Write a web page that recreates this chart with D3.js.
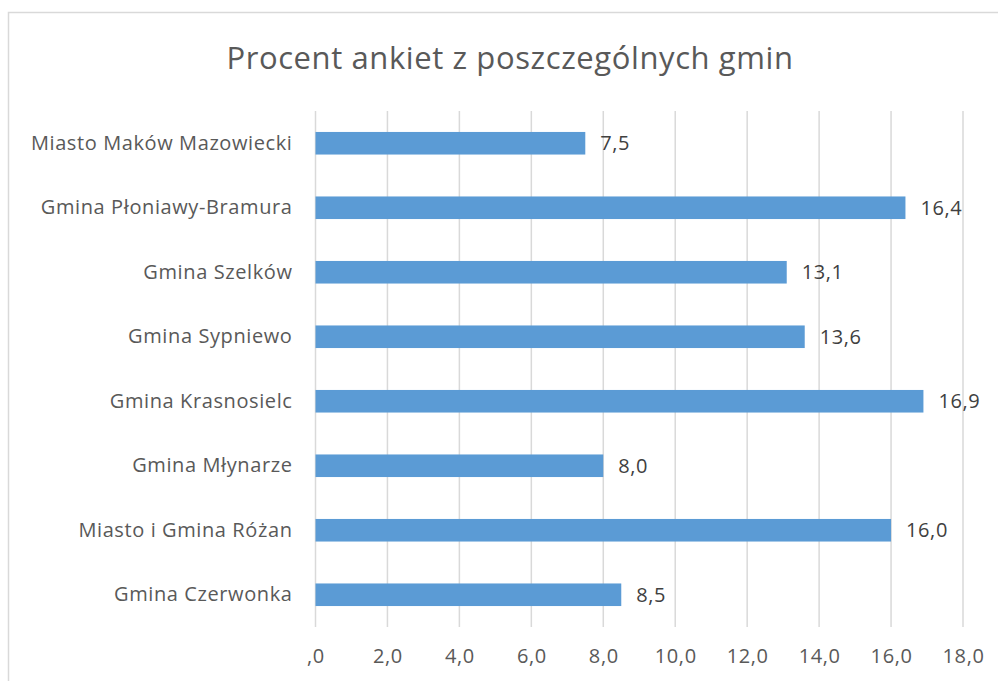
<!DOCTYPE html>
<html>
<head>
<meta charset="utf-8">
<script src="https://cdn.jsdelivr.net/npm/d3@7"></script>
<style>
    body { margin: 0; background: #fff; }
    svg { display: block; font-family: "Open Sans", sans-serif; }
</style>
</head>
<body>
<svg id="barchartSvg" width="998" height="681"></svg>
<script>
// data, top row first
const categories = [
    "Miasto Maków Mazowiecki",
    "Gmina Płoniawy-Bramura",
    "Gmina Szelków",
    "Gmina Sypniewo",
    "Gmina Krasnosielc",
    "Gmina Młynarze",
    "Miasto i Gmina Różan",
    "Gmina Czerwonka"
];
const values = [7.5, 16.4, 13.1, 13.6, 16.9, 8.0, 16.0, 8.5];
const xTicks = [0, 2, 4, 6, 8, 10, 12, 14, 16, 18];
const title = "Procent ankiet z poszczególnych gmin";

document.addEventListener('DOMContentLoaded', function () {
    drawBarChart();
});

function fmt(v) {
    // Excel style: no leading zero, comma as decimal separator
    return v === 0 ? ",0" : v.toFixed(1).replace('.', ',');
}

function drawBarChart() {
    const svg = d3.select('#barchartSvg');
    const margin = { top: 111, left: 315.5 };
    const innerWidth = 963 - margin.left;   // 0..18 -> 315.5..963
    const innerHeight = 516;

    // chart frame (right and bottom edges run off the picture)
    svg.append('rect')
        .attr('x', 8.5).attr('y', 12.5)
        .attr('width', 1010).attr('height', 700)
        .attr('fill', 'none')
        .attr('stroke', '#d9d9d9')
        .attr('stroke-width', 1.5);

    svg.append('text')
        .attr('x', 510)
        .attr('y', 69)
        .attr('text-anchor', 'middle')
        .style('font-size', '31px')
        .style('letter-spacing', '0.6px')
        .attr('fill', '#595959')
        .text(title);

    const xScale = d3.scaleLinear()
        .domain([0, 18])
        .range([0, innerWidth]);
    const yScale = d3.scaleBand()
        .domain(categories)
        .range([0, innerHeight])
        .paddingInner(0.65)
        .paddingOuter(0.325);

    const g = svg.append('g')
        .attr('transform', 'translate(' + margin.left + ', ' + margin.top + ')');

    // vertical gridlines
    g.selectAll('.grid')
        .data(xTicks)
        .enter()
        .append('line')
        .attr('x1', d => xScale(d)).attr('x2', d => xScale(d))
        .attr('y1', 0).attr('y2', innerHeight)
        .attr('stroke', '#d9d9d9')
        .attr('stroke-width', 1.5);

    g.selectAll('.bar')
        .data(values)
        .enter()
        .append('rect')
        .attr('x', 0)
        .attr('y', (d, i) => yScale(categories[i]))
        .attr('height', yScale.bandwidth())
        .attr('width', d => xScale(d))
        .attr('fill', '#5b9bd5');

    g.selectAll('.val')
        .data(values)
        .enter()
        .append('text')
        .attr('x', d => xScale(d) + 15)
        .attr('y', (d, i) => yScale(categories[i]) + yScale.bandwidth() / 2)
        .attr('dy', '0.36em')
        .style('font-size', '20px')
        .style('letter-spacing', '0.6px')
        .attr('fill', '#404040')
        .text(d => fmt(d));

    const yAxis = d3.axisLeft(yScale).tickSize(0).tickPadding(23);
    g.append('g').call(yAxis)
        .call(a => a.select('.domain').remove())
        .selectAll('text')
        .style('font-size', '20px')
        .style('letter-spacing', '0.6px')
        .style('font-family', '"Open Sans", sans-serif')
        .attr('fill', '#595959');

    const xAxis = d3.axisBottom(xScale).tickValues(xTicks).tickFormat(fmt).tickSize(0).tickPadding(22);
    g.append('g').call(xAxis)
        .attr('transform', 'translate(0,' + innerHeight + ')')
        .call(a => a.select('.domain').remove())
        .selectAll('text')
        .style('font-size', '20px')
        .style('letter-spacing', '0.6px')
        .style('font-family', '"Open Sans", sans-serif')
        .attr('fill', '#595959');
}
</script>
</body>
</html>
